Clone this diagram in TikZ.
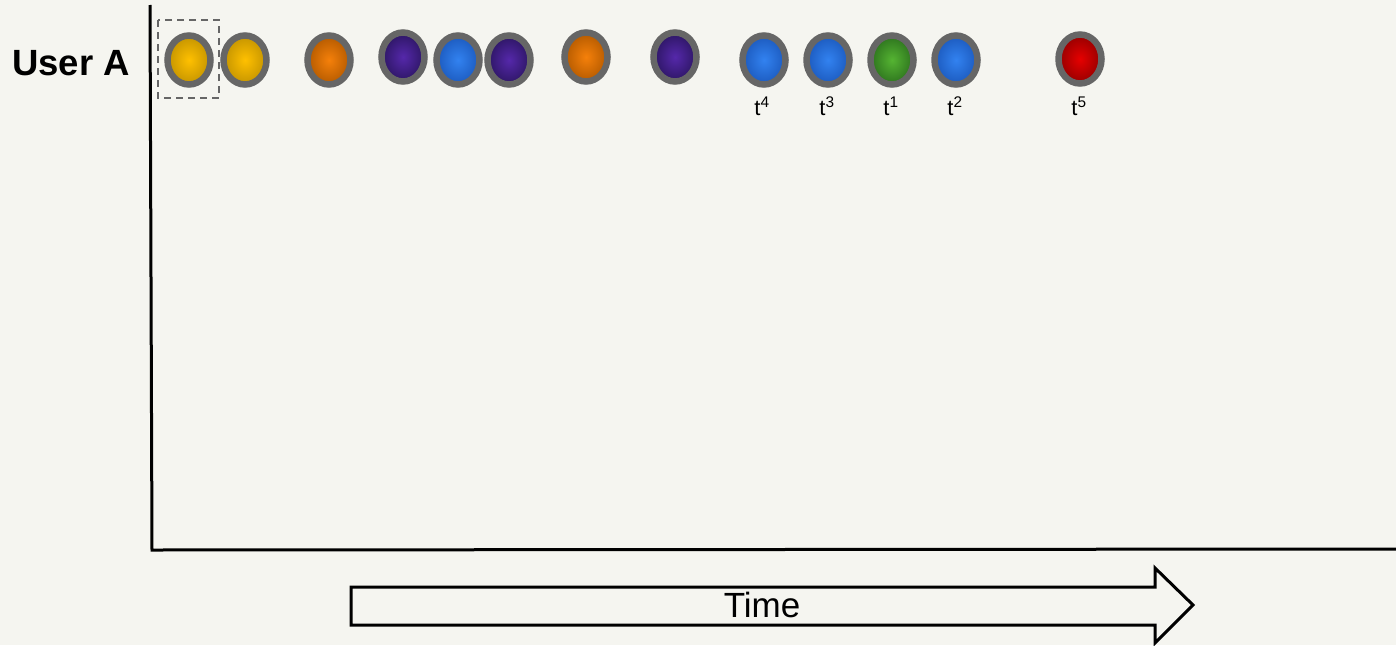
\documentclass[tikz,border=0pt]{standalone}
\usepackage{fontspec}
\setmainfont{Liberation Sans}
\usetikzlibrary{shapes.geometric}
\definecolor{bg}{RGB}{245,245,240}
\definecolor{ring}{RGB}{102,102,102}
\definecolor{yelin}{RGB}{255,192,0}\definecolor{yelout}{RGB}{196,148,0}
\definecolor{orin}{RGB}{245,128,10}\definecolor{orout}{RGB}{180,90,0}
\definecolor{puin}{RGB}{85,40,170}\definecolor{puout}{RGB}{45,22,100}
\definecolor{blin}{RGB}{50,130,240}\definecolor{blout}{RGB}{28,90,190}
\definecolor{grin}{RGB}{85,180,50}\definecolor{grout}{RGB}{45,115,30}
\definecolor{rdin}{RGB}{230,0,0}\definecolor{rdout}{RGB}{150,0,0}
\tikzset{
  ball/.style={ellipse, draw=ring, line width=6.5pt, minimum width=43pt, minimum height=49pt, inner sep=0pt},
  yel/.style={ball, inner color=yelin, outer color=yelout},
  ora/.style={ball, inner color=orin, outer color=orout},
  pur/.style={ball, inner color=puin, outer color=puout},
  blu/.style={ball, inner color=blin, outer color=blout},
  gre/.style={ball, inner color=grin, outer color=grout},
  red/.style={ball, inner color=rdin, outer color=rdout},
  tlab/.style={anchor=base, inner sep=0pt, font=\fontsize{22}{24}\selectfont},
  axis/.style={line width=3pt, black},
}
\begin{document}
\begin{tikzpicture}[x=1pt,y=-1pt]
\fill[bg] (0,0) rectangle (1396,645);
\useasboundingbox (0,0) rectangle (1396,645);
% axes
\coordinate (top) at (150,5);
\coordinate (origin) at (152,550);
\coordinate (right) at (1396,549);
\draw[axis] (top) -- (origin) -- (right);
% label
\node[anchor=base west, inner sep=0pt, font=\fontsize{36.5}{40}\selectfont\bfseries] (usera) at (12,75) {User A};
% dashed box
\draw[ring, line width=2pt, dash pattern=on 7pt off 5pt] (158,20) rectangle (219,98);
% balls
\node[yel] (b1) at (189,60) {};
\node[yel] (b2) at (245,60) {};
\node[ora] (b3) at (329,60) {};
\node[pur] (b4) at (403,57) {};
\node[blu] (b5) at (458,60) {};
\node[pur] (b6) at (509,60) {};
\node[ora] (b7) at (586,57) {};
\node[pur] (b8) at (675,57) {};
\node[blu] (b9) at (764,60) {};
\node[blu] (b10) at (828,60) {};
\node[gre] (b11) at (892,60) {};
\node[blu] (b12) at (956,60) {};
\node[red] (b13) at (1080,59) {};
% time labels
\node[tlab] (t4) at (762,115) {t\textsuperscript{4}};
\node[tlab] (t3) at (827,115) {t\textsuperscript{3}};
\node[tlab] (t1) at (891,115) {t\textsuperscript{1}};
\node[tlab] (t2) at (955,115) {t\textsuperscript{2}};
\node[tlab] (t5) at (1079,115) {t\textsuperscript{5}};
% time arrow
\draw[line width=3pt, line join=miter, black] (351,587) -- (1155,587) -- (1155,568) -- (1193,605) -- (1155,643) -- (1155,625) -- (351,625) -- cycle;
\node[anchor=base, inner sep=0pt, font=\fontsize{35}{38}\selectfont] (time) at (762,617) {Time};
\end{tikzpicture}
\end{document}
